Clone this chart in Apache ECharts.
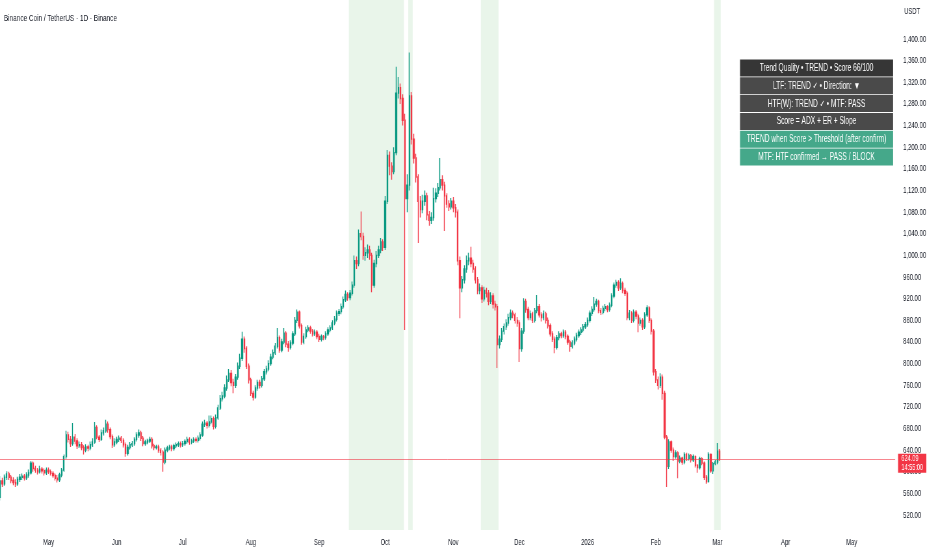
<!DOCTYPE html>
<html><head><meta charset="utf-8">
<script src="https://cdn.jsdelivr.net/npm/echarts@6/dist/echarts.min.js"></script>
<style>
html,body{margin:0;padding:0;background:#fff;overflow:hidden;width:932px;height:550px}
#c{width:1434px;height:550px;transform:scaleX(0.65);transform-origin:0 0}
</style>
</head><body><div id="c"></div>
<script>
const title = 'Binance Coin / TetherUS · 1D · Binance';
const currency = 'USDT';
const countdown = '14:55:00';
const firstCandle = [2025, 4, 9]; // Apr 9, 2025 (year, month, day)

// Daily OHLC, Apr 9 2025 -> Mar 2 2026
const open = [
 553,583,578,590,596,590,584,580,578,586,590,592,589,594,598,616,606,603,600,605,602,598,
 603,600,597,593,588,585,594,603,628,668,660,652,664,657,648,650,645,640,646,644,650,655,682,664,660,672,676,688,678,665,650,
 655,660,662,658,650,634,645,650,652,660,668,672,662,652,655,657,660,648,645,646,640,636,618,640,644,646,643,648,650,652,
 650,652,656,660,655,657,660,658,662,668,688,690,686,692,698,684,700,718,735,740,755,770,782,765,760,775,795,810,845,828,795,
 770,745,738,755,765,760,772,785,790,800,812,820,832,848,825,840,856,836,830,838,855,880,895,870,840,850,862,866,860,855,858,
 850,845,850,848,855,862,866,875,882,893,896,905,918,928,922,930,945,990,985,1040,1035,1000,1005,1010,1000,945,985,1000,1010,1025,
 1015,1100,1185,1165,1155,1190,1300,1310,1290,1250,1105,1130,1295,1215,1180,1145,1100,1085,1100,1110,1075,1065,1070,1105,1115,1125,1140,1130,1110,1095,1090,
 1100,1088,1080,990,940,955,975,990,995,985,975,955,935,940,920,935,930,915,925,910,905,835,845,860,868,875,885,893,890,880,
 875,828,860,915,900,885,892,880,898,905,890,885,892,880,870,855,845,830,848,855,852,858,850,840,832,838,845,852,858,862,868,
 872,880,893,900,910,915,898,895,902,905,900,908,925,945,950,940,948,935,930,885,893,880,895,888,875,880,868,890,903,880,860,
 785,770,760,775,745,664,610,655,640,628,635,620,625,618,632,625,630,622,628,612,608,624,616,590,582,632,602,615,
 618,638
];
const close = [
 583,578,590,596,590,584,580,578,586,590,592,589,594,598,616,606,603,600,605,602,598,603,
 600,597,593,588,585,594,603,628,668,660,652,664,657,648,650,645,640,646,644,650,655,682,664,660,672,676,688,678,665,650,655,
 660,662,658,650,634,645,650,652,660,668,672,662,652,655,657,660,648,645,646,640,636,618,640,644,646,643,648,650,652,650,
 652,656,660,655,657,660,658,662,668,688,690,686,692,698,684,700,718,735,740,755,770,782,765,760,775,795,810,845,828,795,770,
 745,738,755,765,760,772,785,790,800,812,820,832,848,825,840,856,836,830,838,855,880,895,870,840,850,862,866,860,855,858,850,
 845,850,848,855,862,866,875,882,893,896,905,918,928,922,930,945,990,985,1040,1035,1000,1005,1010,1000,945,985,1000,1010,1025,1015,
 1100,1185,1165,1155,1190,1300,1310,1290,1250,1105,1130,1295,1215,1180,1145,1100,1085,1100,1110,1075,1065,1070,1105,1115,1125,1140,1130,1110,1095,1090,1100,
 1088,1080,990,940,955,975,990,995,985,975,955,935,940,920,935,930,915,925,910,905,835,845,860,868,875,885,893,890,880,875,
 828,860,915,900,885,892,880,898,905,890,885,892,880,870,855,845,830,848,855,852,858,850,840,832,838,845,852,858,862,868,872,
 880,893,900,910,915,898,895,902,905,900,908,925,945,950,940,948,935,930,885,893,880,895,888,875,880,868,890,903,880,860,785,
 770,760,775,745,664,610,655,640,628,635,620,625,618,632,625,630,622,628,612,608,624,616,590,582,632,602,615,618,
 638,624.09
];
const high = [
 592,589,595,601,600,594,590,586,591,596,597,596,599,604,620,619,611,607,611,609,606,608,
 608,604,601,597,594,598,607,632,676,674,666,690,670,662,656,655,649,651,650,656,662,692,686,668,678,682,696,693,682,669,662,
 665,667,666,662,654,650,655,657,664,673,678,676,666,659,661,665,664,652,650,650,644,640,645,648,650,650,652,654,656,656,
 657,660,665,664,661,664,664,667,673,693,696,694,704,704,702,706,724,742,748,762,778,790,788,772,781,802,818,859,850,832,800,
 774,750,760,770,770,777,790,796,806,818,826,838,866,852,846,866,860,842,843,860,886,900,898,874,856,868,871,870,864,863,862,
 855,854,853,860,867,871,880,888,898,901,911,924,935,932,936,952,1000,998,1048,1081,1042,1015,1020,1018,1005,992,1008,1018,1032,1030,
 1110,1195,1192,1172,1200,1349,1330,1318,1298,1262,1150,1375,1302,1225,1188,1150,1110,1112,1120,1116,1082,1080,1125,1124,1134,1180,1148,1136,1115,1102,1106,
 1108,1095,1085,998,962,982,1000,1005,1016,992,980,960,948,945,942,940,936,932,930,916,910,852,866,874,882,892,900,898,894,886,
 880,866,921,920,905,898,896,903,927,910,895,898,896,885,874,860,850,853,860,859,863,862,854,844,843,850,857,863,867,873,877,
 885,898,906,923,920,918,903,907,910,908,913,930,950,955,954,958,952,940,934,899,897,900,899,892,885,884,895,908,906,884,864,
 790,776,782,780,750,668,660,658,645,640,638,630,628,636,635,634,633,632,630,614,628,627,619,594,636,634,618,622,
 653,642
];
const low = [
 547,572,574,585,585,579,575,572,574,581,585,584,585,589,595,600,598,595,597,597,593,594,
 596,593,589,584,580,581,590,600,624,654,646,648,651,642,644,640,632,636,638,640,646,652,660,655,657,667,672,672,660,644,646,
 651,655,653,645,628,630,641,646,648,656,663,657,647,648,651,653,643,640,641,635,630,600,614,636,640,638,639,644,646,645,
 646,648,652,650,651,653,654,654,658,665,683,680,682,688,678,680,696,714,730,736,750,766,758,745,755,770,790,805,820,790,763,
 740,732,735,750,754,756,768,780,786,796,808,816,828,820,821,836,830,822,826,834,851,875,865,835,836,846,858,855,850,851,845,
 840,841,843,844,851,858,862,871,878,888,891,901,914,916,917,926,940,975,980,1028,992,990,995,992,932,940,978,995,1004,1008,
 1010,1095,1148,1140,1150,1185,1290,1280,1240,862,1080,1120,1205,1170,1135,1023,1070,1078,1092,1065,1055,1058,1064,1098,1108,1120,1120,1045,1088,1082,1085,
 1080,1070,982,884,932,948,968,982,978,968,948,928,928,912,915,922,908,910,902,898,792,828,840,854,862,870,880,884,874,868,
 803,822,855,894,880,880,875,876,893,885,878,880,874,865,850,840,819,826,843,847,848,845,835,822,828,834,841,848,853,858,864,
 868,876,888,896,905,893,890,891,897,895,896,904,921,940,934,936,930,925,880,880,875,876,882,858,870,862,864,886,875,854,778,
 764,752,755,733,660,572,605,635,620,624,588,616,613,614,620,621,617,618,608,598,604,612,585,578,580,598,596,612,
 614,620
];

// Trend-state shaded periods (first candle, last candle)
const trendBands = [
 ['2025-09-15', '2025-10-09'],
 ['2025-10-12', '2025-10-13'],
 ['2025-11-14', '2025-11-21'],
 ['2026-02-28', '2026-03-02']
];

const tableRows = [
 'Trend Quality • TREND • Score 66/100',
 'LTF: TREND ✓ • Direction: ▼',
 'HTF(W): TREND ✓ • MTF: PASS',
 'Score = ADX + ER + Slope',
 'TREND when Score > Threshold (after confirm)',
 'MTF: HTF confirmed → PASS / BLOCK'
];
const tableColors = ['#363636', '#4a4a4a', '#4a4a4a', '#4a4a4a', '#45a88a', '#45a88a'];

const monthNames = ['Jan','Feb','Mar','Apr','May','Jun','Jul','Aug','Sep','Oct','Nov','Dec'];

const DAY = 86400000;
const FONT = '"Liberation Sans",Arial,sans-serif';
const TXT = '#131722';

function parseDate(s) { const p = s.split('-').map(Number); return new Date(p[0], p[1] - 1, p[2]).getTime(); }

const candles = close.map((c, i) => [
  new Date(firstCandle[0], firstCandle[1] - 1, firstCandle[2] + i).getTime(),
  open[i], c, low[i], high[i]
]);
const bandData = trendBands.map(b => [parseDate(b[0]), parseDate(b[1])]);
const lastClose = close[close.length - 1];

const may1 = new Date(2025, 4, 1).getTime();
const xMin = may1 - 22.05 * DAY;
const xMax = may1 + 384.77 * DAY;

const chart = echarts.init(document.getElementById('c'), null, { renderer: 'canvas', width: 1434, height: 550 });

const graphics = [
  { type: 'text', left: 6, top: 13.5, style: { text: title, fill: TXT, font: '9.9px ' + FONT } },
  { type: 'text', left: 1391, top: 7, style: { text: currency, fill: TXT, font: '9px ' + FONT } }
];
tableRows.forEach((t, k) => {
  const y = 59.5 + k * 17.8;
  graphics.push({ type: 'rect', left: 1138.5, top: y, z: 100, shape: { width: 235.4, height: 17 }, style: { fill: tableColors[k] } });
  graphics.push({ type: 'text', z: 101, x: 1256.2, y: y + 8.6, style: { text: t, fill: '#ffffff', font: '10.2px ' + FONT, textAlign: 'center', textVerticalAlign: 'middle' } });
});

chart.setOption({
  animation: false,
  backgroundColor: '#ffffff',
  grid: [
    { left: 0, right: 56.9, top: 17.4, height: 519.3 },
    { left: 0, right: 56.9, top: 0, height: 530 }
  ],
  xAxis: [
    {
      type: 'time', gridIndex: 0, min: xMin, max: xMax,
      minInterval: 28 * DAY, maxInterval: 31 * DAY,
      axisLine: { show: false }, axisTick: { show: false }, splitLine: { show: false },
      axisLabel: {
        color: TXT, fontSize: 9, fontFamily: FONT, margin: 1,
        formatter: function (v) { const d = new Date(v); return d.getMonth() === 0 ? String(d.getFullYear()) : monthNames[d.getMonth()]; }
      }
    },
    { type: 'time', gridIndex: 1, min: xMin, max: xMax, show: false }
  ],
  yAxis: [
    {
      type: 'value', gridIndex: 0, position: 'right', min: 480, max: 1440, interval: 40,
      axisLine: { show: false }, axisTick: { show: false }, splitLine: { show: false },
      axisLabel: {
        color: TXT, fontSize: 9.1, fontFamily: FONT, margin: 12.3,
        formatter: function (v) { return (v < 500 || v > 1420) ? '' : v.toLocaleString('en-US', { minimumFractionDigits: 2, maximumFractionDigits: 2 }); }
      }
    },
    { type: 'value', gridIndex: 1, min: 0, max: 1, show: false }
  ],
  graphic: graphics,
  series: [
    {
      type: 'custom', xAxisIndex: 1, yAxisIndex: 1, z: 0, silent: true,
      data: bandData,
      encode: { x: [0, 1] },
      renderItem: function (params, api) {
        const p0 = api.coord([api.value(0) - DAY / 2, 1]);
        const p1 = api.coord([api.value(1) + DAY / 2, 0]);
        return { type: 'rect', shape: { x: p0[0], y: p0[1], width: p1[0] - p0[0], height: p1[1] - p0[1] }, style: { fill: 'rgba(76,175,80,0.12)' } };
      }
    },
    {
      type: 'candlestick', xAxisIndex: 0, yAxisIndex: 0, z: 2,
      data: candles,
      barWidth: 1.8,
      itemStyle: { color: '#089981', color0: '#F23645', borderColor: '#089981', borderColor0: '#F23645', borderWidth: 1.4 }
    },
    {
      type: 'line', name: 'last price', xAxisIndex: 0, yAxisIndex: 0, z: 3, silent: true,
      data: [], symbol: 'none', color: '#F23645',
      markLine: {
        silent: true, symbol: ['none', 'none'], animation: false,
        data: [{ yAxis: lastClose }],
        lineStyle: { color: 'rgba(242,54,69,0.6)', width: 1, type: 'solid' },
        label: {
          show: true, position: 'end', distance: 4.6, offset: [0, 4.5],
          formatter: lastClose.toFixed(2) + '\n' + countdown,
          backgroundColor: '#F23645', color: '#ffffff', fontSize: 8.6, fontFamily: FONT,
          lineHeight: 9, padding: [0.5, 5, 0.5, 5]
        }
      }
    }
  ]
});
</script></body></html>
